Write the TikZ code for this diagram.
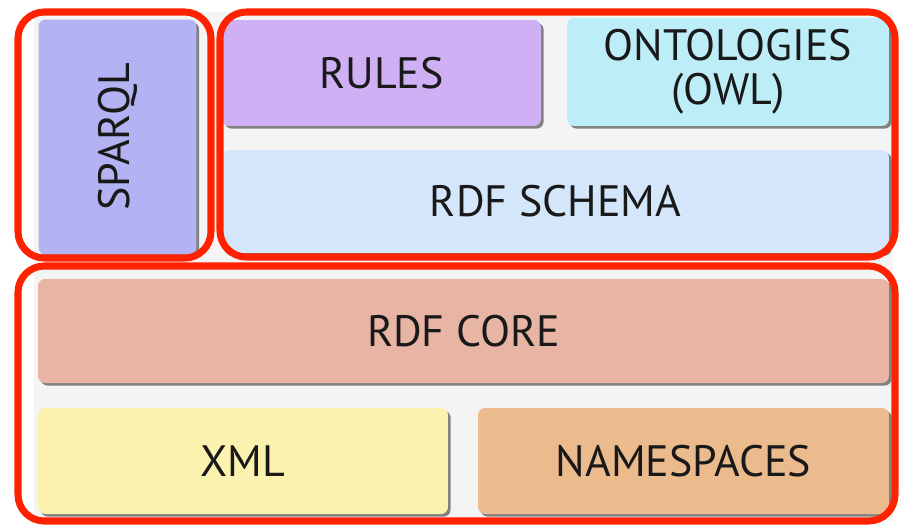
\documentclass[tikz,border=0pt]{standalone}
\usepackage{fontspec}
\setmainfont{PT Sans}
\usepackage{xcolor}
\usepackage{tikz}
\usetikzlibrary{shadows}

\definecolor{framered}{HTML}{FF2200}
\definecolor{bggray}{HTML}{F4F4F4}
\definecolor{sparqlc}{HTML}{B3B3F3}
\definecolor{rulesc}{HTML}{CFB0F5}
\definecolor{owlc}{HTML}{BDEEF8}
\definecolor{schemac}{HTML}{D3E6FA}
\definecolor{corec}{HTML}{E8B4A3}
\definecolor{xmlc}{HTML}{FCF2B0}
\definecolor{nsc}{HTML}{EBBB8E}

\begin{document}
\begin{tikzpicture}[x = 0.02cm, y = -0.02cm,
        layer/.style = {rectangle, rounded corners = 4pt, inner sep = 0pt,
            text = black!90, align = center,
            font = \fontsize{25}{25}\selectfont,
            drop shadow = {shadow xshift = 1.5pt, shadow yshift = -1.5pt,
                fill = black!60, opacity = 0.8}},
        group/.style = {draw = framered, line width = 4pt, rounded corners = 15pt}]
        \useasboundingbox (0, 0) rectangle (899, 525);
        \fill[bggray] (34, 12) rectangle (893, 521);

        \node[layer, fill = sparqlc, minimum width = 3.16cm, minimum height = 4.70cm] (sparql) at (117.5, 137) {\rotatebox{90}{SPARQL}};
        \node[layer, fill = rulesc, minimum width = 6.38cm, minimum height = 2.12cm] (rules) at (381.5, 73) {RULES};
        \node[layer, fill = owlc, minimum width = 6.44cm, minimum height = 2.16cm] (owl) at (728, 72) {ONTOLOGIES\\(OWL)};
        \node[layer, fill = schemac, minimum width = 13.34cm, minimum height = 2.06cm] (schema) at (555.5, 201.5) {RDF SCHEMA};
        \node[layer, fill = corec, minimum width = 17.02cm, minimum height = 2.08cm] (core) at (463.5, 331) {RDF CORE};
        \node[layer, fill = xmlc, minimum width = 8.20cm, minimum height = 2.12cm] (xml) at (243, 461) {XML};
        \node[layer, fill = nsc, minimum width = 8.22cm, minimum height = 2.12cm] (ns) at (683.5, 461) {NAMESPACES};

        % groups
        \draw[group] (18, 12) rectangle (211, 258);
        \draw[group] (220, 12) rectangle (895, 257);
        \draw[group] (18, 266) rectangle (895, 521);
\end{tikzpicture}
\end{document}
